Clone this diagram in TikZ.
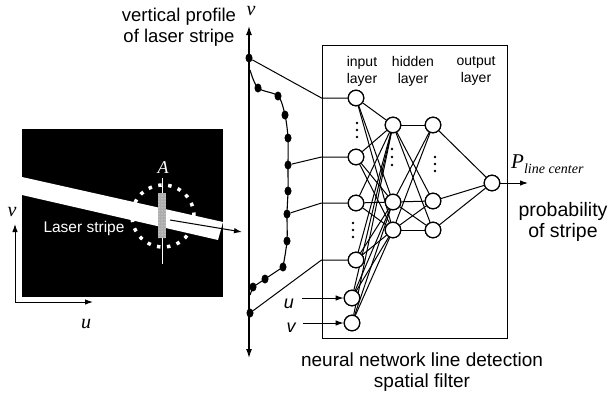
\documentclass[tikz,border=0pt]{standalone}
\usepackage{fontspec}
\setmainfont{Liberation Sans}
\newfontfamily\tms{Liberation Serif}
\usetikzlibrary{arrows.meta,patterns,shapes.geometric}
\begin{document}
\begin{tikzpicture}[x=1pt,y=-1pt,
  neuron/.style={circle,draw,fill=white,minimum size=15.5pt,inner sep=0pt,line width=1.2pt},
  pdot/.style={ellipse,fill=black,minimum width=7pt,minimum height=9pt,inner sep=0pt},
  wire/.style={line width=1pt},
  arr/.style={-{Latex[length=8pt,width=5.5pt]},line width=1pt},
  big/.style={font=\fontsize{18.5}{21}\selectfont,align=center,inner sep=0pt},
  small/.style={font=\fontsize{14}{17}\selectfont,align=center,inner sep=0pt},
  serifit/.style={font=\tms\itshape\fontsize{20}{20}\selectfont,inner sep=0pt},
  vdot/.style={circle,fill=black,inner sep=0pt,minimum size=2.8pt}]
\useasboundingbox (0,0) rectangle (614,394);

% ---------- camera image ----------
\fill[black] (22,129) rectangle (223,297);
\fill[white] (22,177) -- (223,222) -- (218,240) -- (22,195) -- cycle;
\draw[white,line width=0.7pt] (162,178) -- (162,264);
\fill[gray!65] (158,193) rectangle (166,238);
\fill[pattern=dots,pattern color=white] (158,193) rectangle (166,238);
\draw[white,line width=3.5pt,dash pattern=on 3.5pt off 6.5pt] (163,216) circle[radius=31pt];
\node[white,font=\tms\itshape\fontsize{18}{18}\selectfont,inner sep=0pt] (A) at (163,168) {A};
\node[white,font=\fontsize{15.5}{16}\selectfont,inner sep=0pt] (ls) at (84,228) {Laser stripe};
\coordinate (sa) at (170,220);
\coordinate (sb) at (242,232);
\draw[arr] (sa) -- (sb);

% image axes
\coordinate (o) at (15,302);
\coordinate (oy) at (15,224);
\coordinate (ox) at (93,302);
\draw[arr] (o) -- (oy);
\draw[arr] (o) -- (ox);
\node[serifit] (lv) at (12,212) {v};
\node[serifit] (lu) at (86,324) {u};

% ---------- vertical profile ----------
\coordinate (pb) at (249,358);
\coordinate (pt) at (249,26);
\draw[{Latex[length=9pt,width=6pt]}-{Latex[length=9pt,width=6pt]},line width=1.2pt] (pb) -- (pt);
\node[serifit] (pv) at (251,11) {v};
\node[big] (title) at (179,27) {vertical profile\\of laser stripe};

\coordinate (p0) at (250,70);
\coordinate (p2) at (258,88);
\coordinate (p3) at (278,96);
\coordinate (p4) at (285,115);
\coordinate (p5) at (288,138);
\coordinate (p6) at (288,165);
\coordinate (p7) at (288,191);
\coordinate (p8) at (287,214);
\coordinate (p9) at (287,241);
\coordinate (p10) at (283,267);
\coordinate (p11) at (265,279);
\coordinate (p12) at (253,287);
\coordinate (p14) at (250,295);
\draw[line width=1.1pt] plot[smooth,tension=0.5] coordinates {(p0) (p2) (p3) (p4) (p5) (p6) (p7) (p8) (p9) (p10)}
  -- (p11) -- (p12) -- (p14);
\node[pdot] (d1) at (249,58) {};
\foreach \k in {2,...,12} {\node[pdot] (d\k) at (p\k) {};}
\node[pdot] (d13) at (250,313) {};

% ---------- network box ----------
\node[draw,line width=1pt,minimum width=185pt,minimum height=293pt,inner sep=0pt] (box) at (414.5,191.5) {};
\node[small] (Lin) at (362,71) {input\\layer};
\node[small] (Lhid) at (413,71) {hidden\\layer};
\node[small] (Lout) at (476,71) {output\\layer};

\node[neuron] (i1) at (356,98) {};
\node[neuron] (i2) at (356,157) {};
\node[neuron] (i3) at (356,203) {};
\node[neuron] (i4) at (356,260) {};
\node[neuron] (i5) at (352,298) {};
\node[neuron] (i6) at (352,323) {};
\node[neuron] (h1) at (393,125) {};
\node[neuron] (h2) at (393,202) {};
\node[neuron] (h3) at (393,230) {};
\node[neuron] (g1) at (433,125) {};
\node[neuron] (g2) at (433,201) {};
\node[neuron] (g3) at (433,230) {};
\node[neuron] (out) at (492,183) {};

\foreach \a in {i1,i2,i3,i4,i5,i6} {\foreach \b in {h1,h2,h3} {\draw[wire] (\a) -- (\b);}}
\foreach \a in {h1,h2,h3} {\foreach \b in {g1,g2,g3} {\draw[wire] (\a) -- (\b);}}
\foreach \a in {g1,g2,g3} {\draw[wire] (\a) -- (out);}
% redraw neurons on top
\foreach \n/\x/\y in {i1/356/98,i2/356/157,i3/356/203,i4/356/260,i5/352/298,i6/352/323,h1/393/125,h2/393/202,h3/393/230,g1/433/125,g2/433/201,g3/433/230,out/492/183}
  {\node[neuron] at (\x,\y) {};}

% ellipsis dots
\foreach \x/\y in {357/123,357/130,357/137,353/223,353/230,353/237,392/149,392/157,392/165,435/157,435/164,435/171}
  {\node[vdot] at (\x,\y) {};}

% wires from profile to inputs
\draw[wire] (d1) -- (box.west |- i1) -- (i1);
\draw[wire] (d6) -- (box.west |- i2) -- (i2);
\draw[wire] (d8) -- (box.west |- i3) -- (i3);
\draw[wire] (d13) -- (box.west |- i4) -- (i4);

% u, v inputs
\coordinate (us) at (302,298);
\coordinate (vs) at (303,323);
\draw[arr] (us) -- (i5);
\draw[arr] (vs) -- (i6);
\node[font=\itshape\fontsize{18}{18}\selectfont,inner sep=0pt] (ul) at (289,304) {u};
\node[font=\itshape\fontsize{18}{18}\selectfont,inner sep=0pt] (vl) at (291,328) {v};

% output
\coordinate (oe) at (528,183);
\draw[arr] (out) -- (oe);
\node[inner sep=0pt,anchor=base west] (P) at (511,168) {{\tms\itshape\fontsize{21}{21}\selectfont P}{\tms\itshape\fontsize{14}{14}\selectfont\raisebox{-5pt}{line center}}};
\node[big,font=\fontsize{19.5}{21.5}\selectfont] (prob) at (563,222) {probability\\of stripe};
\node[big,font=\fontsize{19}{21}\selectfont] (cap) at (422,372) {neural network line detection\\spatial filter};
\end{tikzpicture}
\end{document}
